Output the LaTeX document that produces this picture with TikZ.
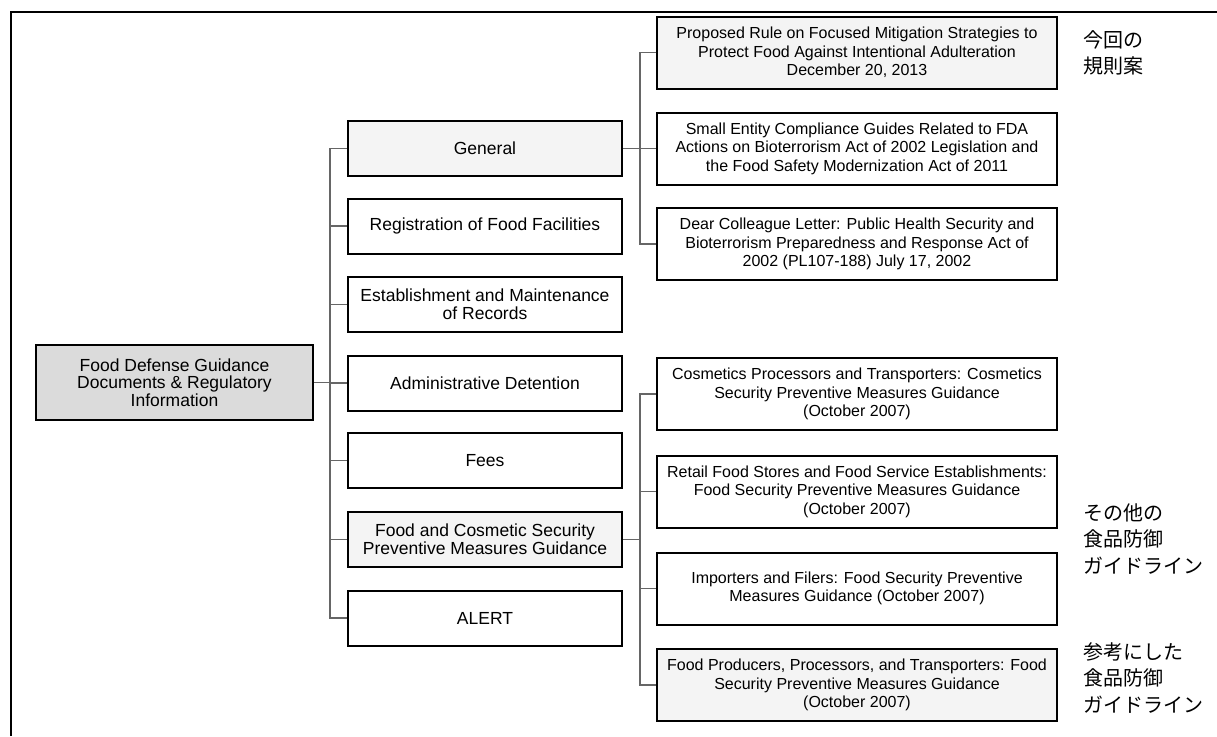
\documentclass[tikz,border=0pt]{standalone}
\usepackage{fontspec}
\setmainfont{Liberation Sans}
\newfontfamily\jpfont{Noto Sans CJK JP}
\usetikzlibrary{positioning}

\begin{document}
\begin{tikzpicture}[x=1pt,y=-1pt,
  box/.style={draw,line width=2pt,align=center,inner sep=1pt},
  topbox/.style={box,fill=gray!28,minimum width=277pt,minimum height=75pt,font=\fontsize{17.5}{17.5}\selectfont},
  midbox/.style={box,minimum width=274pt,minimum height=55pt,font=\fontsize{17.5}{18}\selectfont},
  docbox/.style={box,minimum width=400pt,minimum height=72pt,font=\fontsize{16}{18.5}\selectfont},
  shade/.style={fill=gray!9},
  link/.style={draw=black!60,line width=1.6pt},
  note/.style={anchor=west,align=left,inner sep=0pt,font=\jpfont\fontsize{20}{26.5}\selectfont}]
\useasboundingbox (0,0) rectangle (1217,736);
\draw[line width=1.5pt] (11,736) -- (11,12) -- (1217,12);

\node[topbox] (root) at (174.5,382.5) {Food Defense Guidance\\Documents \& Regulatory\\Information};

\node[midbox,shade] (general) at (485,148.5) {General};
\node[midbox] (registration) at (485,226) {Registration of Food Facilities};
\node[midbox] (records) at (485,304.5) {Establishment and Maintenance\\of Records};
\node[midbox] (detention) at (485,383) {Administrative Detention};
\node[midbox] (fees) at (485,460.5) {Fees};
\node[midbox,shade] (security) at (485,539.5) {Food and Cosmetic Security\\Preventive Measures Guidance};
\node[midbox] (alert) at (485,618) {ALERT};

\node[docbox,shade] (proposed) at (857,52.5) {Proposed Rule on Focused Mitigation Strategies to\\Protect Food Against Intentional Adulteration\\December 20, 2013};
\node[docbox] (compliance) at (857,148.5) {Small Entity Compliance Guides Related to FDA\\Actions on Bioterrorism Act of 2002 Legislation and\\the Food Safety Modernization Act of 2011};
\node[docbox] (colleague) at (857,244) {Dear Colleague Letter: Public Health Security and\\Bioterrorism Preparedness and Response Act of\\2002 (PL107-188) July 17, 2002};

\node[docbox] (cosmetics) at (857,394) {Cosmetics Processors and Transporters: Cosmetics\\Security Preventive Measures Guidance\\(October 2007)};
\node[docbox] (retail) at (857,491.5) {Retail Food Stores and Food Service Establishments:\\Food Security Preventive Measures Guidance\\(October 2007)};
\node[docbox] (importers) at (857,588.5) {Importers and Filers: Food Security Preventive\\Measures Guidance (October 2007)};
\node[docbox,shade] (producers) at (857,685) {Food Producers, Processors, and Transporters: Food\\Security Preventive Measures Guidance\\(October 2007)};

\coordinate (busmain) at (330,382.5);
\coordinate (busgeneral) at (640,148.5);
\coordinate (bussecurity) at (640,539.5);

\draw[link] (root.east) -- (busmain);
\foreach \n in {general,registration,records,detention,fees,security,alert}
  \draw[link] (busmain) |- (\n.west);
\draw[link] (general.east) -- (busgeneral);
\foreach \n in {proposed,compliance,colleague}
  \draw[link] (busgeneral) |- (\n.west);
\draw[link] (security.east) -- (bussecurity);
\foreach \n in {cosmetics,retail,importers,producers}
  \draw[link] (bussecurity) |- (\n.west);

\node[note] (current) at (1083,53) {今回の\\規則案};
\node[note] (others) at (1083,539) {その他の\\食品防御\\ガイドライン};
\node[note] (referenced) at (1083,678) {参考にした\\食品防御\\ガイドライン};
\end{tikzpicture}
\end{document}
